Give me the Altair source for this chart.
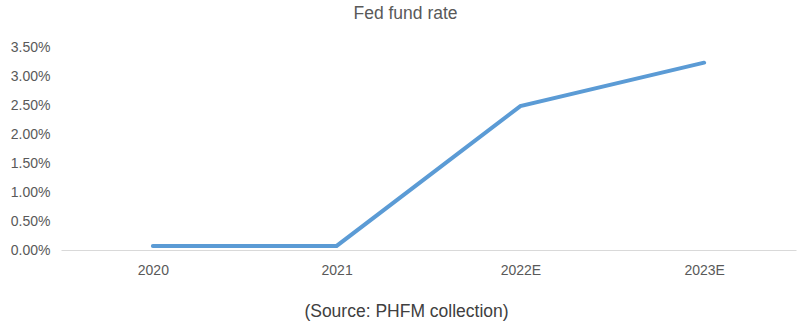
import altair as alt
import pandas as pd

years = ["2020", "2021", "2022E", "2023E"]
rates = [0.0007, 0.0007, 0.0248, 0.0323]

df = pd.DataFrame({"year": years, "rate": rates})

chart = alt.Chart(df).mark_line(
    color="#5B9BD5", strokeWidth=4, strokeCap="round"
).encode(
    x=alt.X("year:N", sort=years,
            scale=alt.Scale(type="point", padding=0.5),
            axis=alt.Axis(title="(Source: PHFM collection)", labelAngle=0,
                          domainColor="#D9D9D9", domainWidth=1, ticks=False,
                          grid=False, labelColor="#595959", labelFont="Liberation Sans",
                          labelFontSize=14, labelPadding=13,
                          titleFont="Liberation Sans", titleFontSize=17.5, titleFontWeight="normal",
                          titleColor="#404040", titlePadding=25, titleX=345)),
    y=alt.Y("rate:Q",
            scale=alt.Scale(domain=[0, 0.035], nice=False),
            axis=alt.Axis(title=None, format=".2%", values=[i * 0.005 for i in range(8)],
                          domain=False, ticks=False, grid=False,
                          labelColor="#595959", labelFont="Liberation Sans",
                          labelFontSize=14, labelPadding=11)),
).properties(
    width=735, height=203,
    title=alt.TitleParams("Fed fund rate", font="Liberation Sans", fontSize=17.5,
                          fontWeight="normal", color="#595959", anchor="middle",
                          dx=-23, offset=18),
).configure_view(stroke=None).properties(
    autosize=alt.AutoSizeParams(type="none"),
    padding={"left": 61, "top": 47, "right": 15, "bottom": 76},
)

chart.save("out.html", embed_options={"renderer": "svg", "actions": False})
